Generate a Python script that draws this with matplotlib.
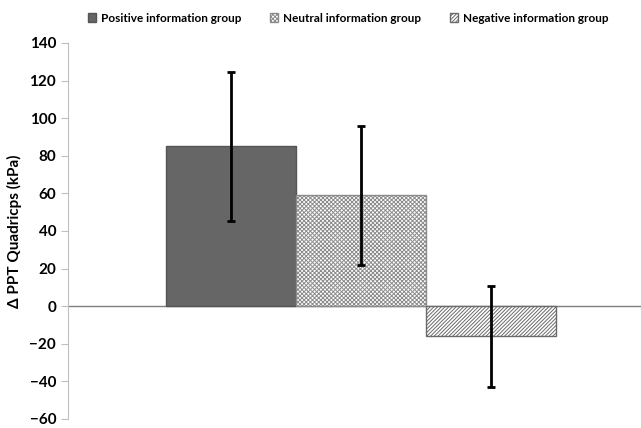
import matplotlib.pyplot as plt
from matplotlib.patches import Patch

plt.rcParams['font.family'] = ['Lato', 'DejaVu Sans']
plt.rcParams['font.weight'] = 'bold'
plt.rcParams['hatch.linewidth'] = 0.7

groups = ['Positive information group', 'Neutral information group', 'Negative information group']
means = [85, 59, -16]
errors = [39.5, 37, 27]
y_ticks = [-60, -40, -20, 0, 20, 40, 60, 80, 100, 120, 140]

fills = ['#666666', 'white', 'white']
hatches = [None, 'xxxxxxxx', '/////////']
edges = ['#555555', '#8c8c8c', '#6a6a6a']

fig = plt.figure(figsize=(6.41, 4.28), dpi=100)
ax = fig.add_axes([68 / 641, 9 / 428, 573 / 641, 376 / 428])

x = range(len(groups))
for i in x:
    ax.bar(i, means[i], width=1.0, color=fills[i], edgecolor=edges[i],
           hatch=hatches[i], linewidth=1.0, zorder=2)
ax.errorbar(list(x), means, yerr=errors, fmt='none', ecolor='black',
            elinewidth=2, capsize=3, capthick=2, zorder=3)

ax.axhline(0, color='#7f7f7f', linewidth=1.0, zorder=1)
ax.set_xlim(-1.254, 3.154)
ax.set_ylim(-60, 140)
ax.set_yticks(y_ticks)
ax.set_xticks([])
for s in ['top', 'right', 'bottom']:
    ax.spines[s].set_visible(False)
ax.spines['left'].set_color('#bfbfbf')
ax.tick_params(axis='y', colors='#bfbfbf', length=5, labelcolor='black',
               labelsize=11)
for lab in ax.get_yticklabels():
    lab.set_fontweight('bold')
ax.set_ylabel('Δ PPT Quadricps (kPa)', fontsize=11, fontweight='bold',
              labelpad=5)

handles = [Patch(facecolor=fills[i], edgecolor=edges[i], hatch=hatches[i])
           for i in x]
fig.legend(handles, groups, loc='center left',
           bbox_to_anchor=(77 / 641, 1 - 18 / 428),
           ncol=3, frameon=False, handlelength=0.7,
           handleheight=0.7, handletextpad=0.4, columnspacing=2.45,
           prop={'weight': 'bold', 'size': 8.5})

fig.savefig('out.png', dpi=100)
